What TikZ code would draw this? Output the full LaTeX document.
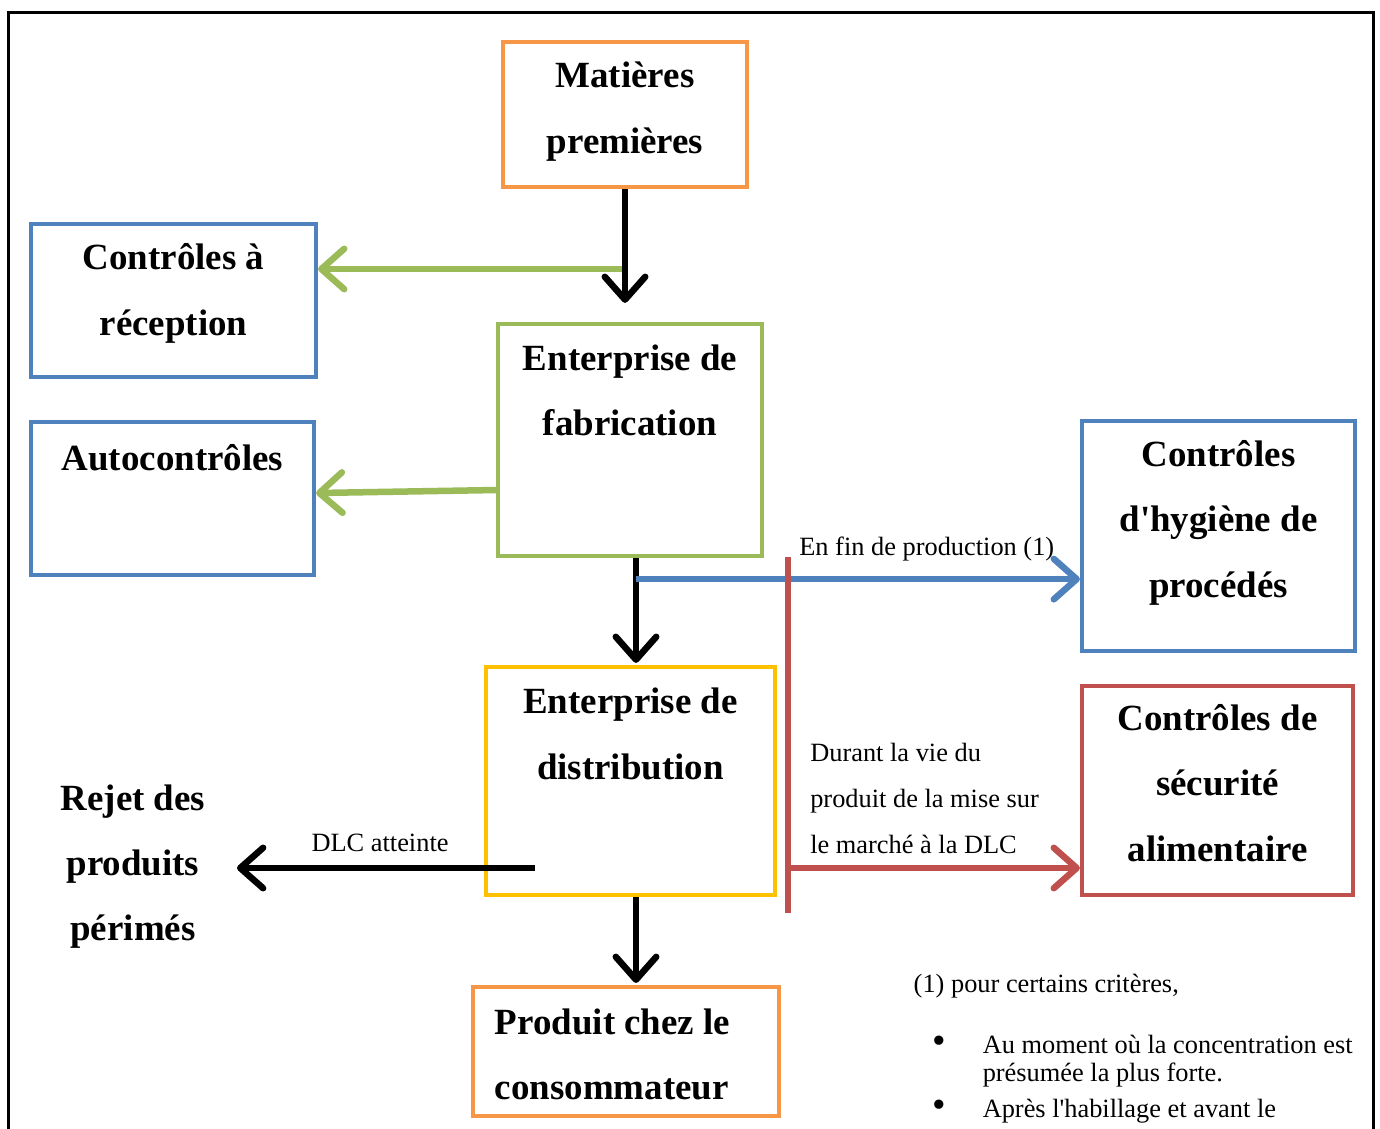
\documentclass[tikz,border=0pt]{standalone}
\usepackage{fontspec}
\setmainfont{Liberation Serif}[Ligatures=TeXOff]
\usetikzlibrary{arrows.meta, calc}
\definecolor{ofOrange}{HTML}{F79646}
\definecolor{ofBlue}{HTML}{4F81BD}
\definecolor{ofGreen}{HTML}{9BBB59}
\definecolor{ofYellow}{HTML}{FFC000}
\definecolor{ofRed}{HTML}{C0504D}

\begin{document}
\begin{tikzpicture}[
    x=0.01cm, y=-0.01cm,
    ttl/.style={inner sep=0pt, align=center, font={\fontsize{10.5}{18.5}\selectfont\bfseries}},
    bx/.style={ttl, draw, line width=1.15pt},
    arr/.style={line width=1.85pt, -{Straight Barb[round, length=6.5pt, width=11.5pt]}},
    garr/.style={arr, draw=ofGreen},
    barr/.style={arr, draw=ofBlue},
    rarr/.style={arr, draw=ofRed},
    rline/.style={line width=1.85pt, draw=ofRed},
    elabel/.style={font={\fontsize{7.5}{13.1}\selectfont}, inner sep=0pt},
]
\useasboundingbox (0,0) rectangle (1380,1128);
\draw[line width=0.7pt] (8.5,12.5) rectangle (1373.5,1140);

% boxes
\node[bx, draw=ofOrange, minimum width=2.44cm, text height=1.11cm, text depth=.34cm] (mat) at (625,114.5) {Matières\\premières};
\node[bx, draw=ofBlue, minimum width=2.85cm, text height=1.11cm, text depth=.42cm] (rec) at (173.5,300.5) {Contrôles à\\réception};
\node[bx, draw=ofGreen, minimum width=2.64cm, text height=1.12cm, text depth=1.20cm] (fab) at (630,440) {Enterprise de\\fabrication};
\node[bx, draw=ofBlue, minimum width=2.83cm, text height=.49cm, text depth=1.04cm] (auto) at (172.5,498.5) {Autocontrôles};
\node[bx, draw=ofBlue, minimum width=2.73cm, text height=1.76cm, text depth=.54cm] (hyg) at (1218.5,536) {Contrôles\\d'hygiène de\\procédés};
\node[bx, draw=ofYellow, minimum width=2.89cm, text height=1.12cm, text depth=1.16cm] (dist) at (630.5,781) {Enterprise de\\distribution};
\node[bx, draw=ofRed, minimum width=2.71cm, text height=1.75cm, text depth=.34cm] (secu) at (1217.5,790.5) {Contrôles de\\sécurité\\alimentaire};
\node[bx, draw=ofOrange, align=flush left, text width=2.62cm, inner xsep=0.22cm, text height=.47cm, text depth=.82cm] (cons) at (626,1051.5) {Produit chez le\\consommateur};
\node[ttl, anchor=north, text height=1.30cm, text depth=0pt] (rejet) at (133,810) {Rejet des\\produits\\périmés};

% connectors
\coordinate (g1) at (625,269);
\draw[garr] (g1) -- (g1 -| rec.east);
\draw[garr] ([yshift=-0.5cm]fab.west) -- ([yshift=-0.53cm]fab.west -| auto.east);
\draw[arr] (mat.south) -- ([yshift=0.19cm]mat.south |- fab.north);

\draw[arr] ([xshift=0.06cm]fab.south) -- ([xshift=0.06cm, yshift=0.02cm]fab.south |- dist.north);
\coordinate (b1) at ([xshift=0.06cm, yshift=-0.21cm]fab.south);
\draw[barr] (b1) -- node[elabel, above=0.15cm, pos=0.655] {En fin de production (1)} (b1 -| hyg.west);

\coordinate (r1) at (788,557);
\coordinate (r2) at (788,913);
\draw[rline] (r1) -- (r2);
\coordinate (r3) at (788,868);
\draw[rarr] (r3) -- node[elabel, align=left, anchor=south west, text depth=0pt, pos=0, xshift=0.19cm, yshift=0.11cm] {Durant la vie du\\produit de la mise sur\\le marché à la DLC} (r3 -| secu.west);

\coordinate (d1) at (535,868);
\draw[arr] (d1) -- node[elabel, above=0.13cm, pos=0.52] {DLC atteinte} ([xshift=0.31cm]d1 -| rejet.east);

\draw[arr] ([xshift=0.055cm]dist.south) -- ([xshift=0.055cm, yshift=0.02cm]dist.south |- cons.north);

% note
\node[elabel, anchor=base west] (note) at (913,992) {(1) pour certains critères,};
\node[elabel, anchor=base west, font={\fontsize{7.5}{8}\selectfont}] (puces) at (932,1053) {\begin{tabular}[t]{@{}l@{}l@{}}
\makebox[0.50cm][l]{\fontsize{11}{8}\selectfont\textbullet} & Au moment où la concentration est\\
 & présumée la plus forte.\\[2.2pt]
\makebox[0.50cm][l]{\fontsize{11}{8}\selectfont\textbullet} & Après l'habillage et avant le
\end{tabular}};

\end{tikzpicture}
\end{document}
